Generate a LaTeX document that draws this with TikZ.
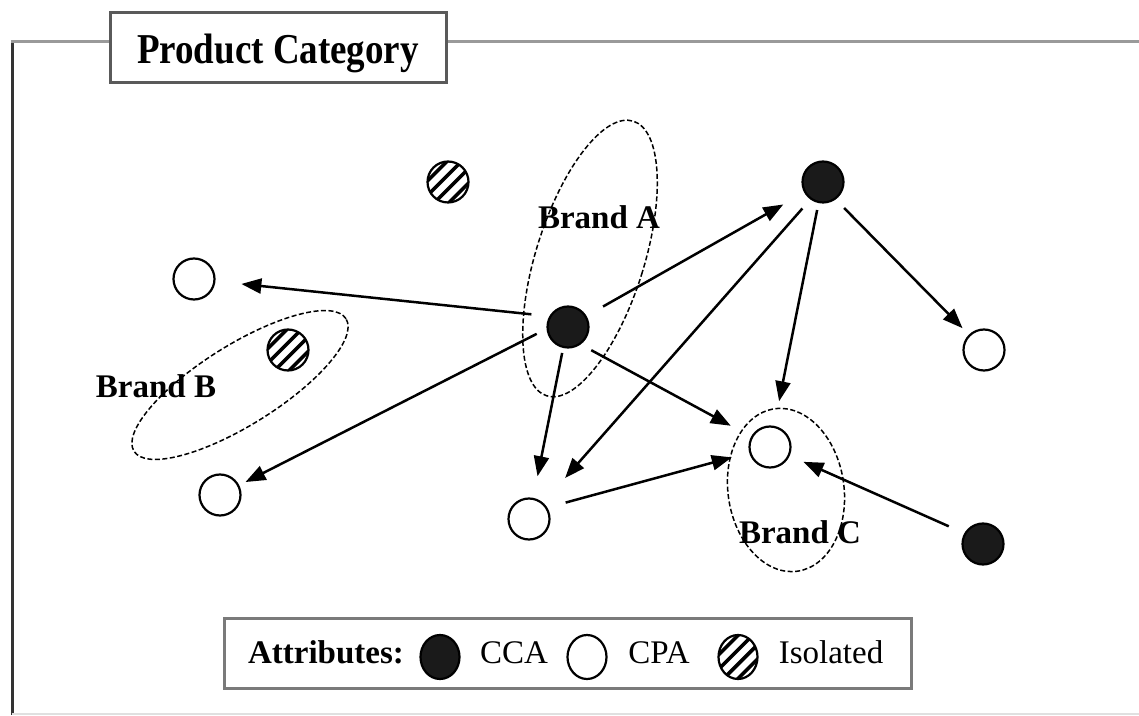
\documentclass[tikz,border=0pt]{standalone}
\usepackage{fontspec}
\setmainfont{Liberation Serif}
\usetikzlibrary{arrows.meta,shapes.geometric}
\definecolor{framegray}{HTML}{9A9A9A}
\definecolor{framedark}{HTML}{333333}
\definecolor{boxgray}{HTML}{5A5A5A}
\definecolor{legendgray}{HTML}{7A7A7A}
\definecolor{ink}{HTML}{1A1A1A}

\tikzset{
  attr/.style={circle, draw=black, line width=2.2pt, minimum size=41pt, inner sep=0pt},
  cca/.style={attr, fill=ink},
  cpa/.style={attr, fill=white},
  stripes/.style={path picture={
      \foreach \k in {-1.5,-0.5,0.5,1.5}
        \draw[line width=3.6pt, shift={(path picture bounding box.center)}]
          (\k*7.2pt-30pt, -\k*7.2pt-30pt) -- (\k*7.2pt+30pt, -\k*7.2pt+30pt);
  }},
  iso/.style={attr, fill=white, stripes},
  keyitem/.style={ellipse, draw=black, line width=2.2pt, minimum width=39pt, minimum height=44pt, inner sep=0pt},
  brand/.style={draw=black, line width=1.5pt, dash pattern=on 5pt off 2.5pt},
  brandlabel/.style={font=\fontsize{33}{36}\selectfont\bfseries, inner sep=0pt},
  keytext/.style={font=\fontsize{33}{36}\selectfont, inner sep=0pt, anchor=base},
  link/.style={line width=2.5pt, -{Triangle[length=20pt,width=15pt]}},
}

\begin{document}
\begin{tikzpicture}[x=1pt,y=1pt]
\useasboundingbox (0,0) rectangle (1139,715);

% outer frame of the category
\draw[framedark, line width=3pt] (12,674.5) -- (12,0);
\draw[framegray, line width=3pt] (10.5,673) -- (110,673);
\draw[framegray, line width=3pt] (446,673) -- (1139,673);
\draw[black!12, line width=1.5pt] (12,1) -- (1139,1);

% title box
\node[draw=boxgray, line width=3pt, fill=white, minimum width=336pt, minimum height=70pt] (title) at (278,667) {};
\node[inner sep=0pt, font=\fontsize{37}{40}\selectfont\bfseries] (titletext) at (278,662)
     {\scalebox{1}[1.15]{Product Category}};

% brand regions
\draw[brand] (590,456.5) ellipse [x radius=54pt, y radius=144pt, rotate=-17.5];
\draw[brand] (240,330) ellipse [x radius=125pt, y radius=40pt, rotate=32];
\draw[brand] (786,225) ellipse [x radius=58pt, y radius=82pt, rotate=8];

\node[brandlabel] (labA) at (599,498) {Brand A};
\node[brandlabel] (labB) at (156,329) {Brand B};
\node[brandlabel] (labC) at (800,183) {Brand C};

% attributes
\node[iso] (H1) at (448,533) {};
\node[cca] (TR) at (823,533) {};
\node[cpa] (TL) at (194,436) {};
\node[cca] (A)  at (568,388) {};
\node[iso] (H2) at (288,365) {};
\node[cpa] (R)  at (984,365) {};
\node[cpa] (C)  at (770,268) {};
\node[cpa] (LL) at (220,220) {};
\node[cpa] (BM) at (529,196) {};
\node[cca] (BR) at (983,171) {};

% associations
\draw[link, shorten <=18pt, shorten >=26pt] (A.150) -- (TL);
\draw[link, shorten <=19pt, shorten >=24pt] (A.31)  -- (TR);
\draw[link, shorten <=11pt, shorten >=7pt]  (A.185) -- (LL);
\draw[link, shorten <=5pt,  shorten >=22pt] (A.257) -- (BM);
\draw[link, shorten <=12pt, shorten >=23pt] (A.306) -- (C);
\draw[link, shorten <=12pt, shorten >=33pt] (TR.234) -- (BM);
\draw[link, shorten <=7pt,  shorten >=25pt] (TR.258) -- (C);
\draw[link, shorten <=12pt, shorten >=9pt]  (TR.306) -- (R);
\draw[link, shorten <=19pt, shorten >=18pt] (BM.32) -- (C);
\draw[link, shorten <=17pt, shorten >=15pt] (BR.150) -- (C);

% legend
\node[draw=legendgray, line width=3pt, fill=white, minimum width=687pt, minimum height=70pt] (legend) at (567.5,62) {};
\node[keytext, font=\fontsize{33}{36}\selectfont\bfseries] (kAttr) at (326,52) {Attributes:};
\node[keyitem, fill=ink] (kCCA) at (440,58) {};
\node[keytext] (tCCA) at (514,52) {CCA};
\node[keyitem, fill=white] (kCPA) at (587,58) {};
\node[keytext] (tCPA) at (659,52) {CPA};
\node[keyitem, fill=white, stripes] (kIso) at (738,58) {};
\node[keytext] (tIso) at (831,52) {Isolated};
\end{tikzpicture}
\end{document}
